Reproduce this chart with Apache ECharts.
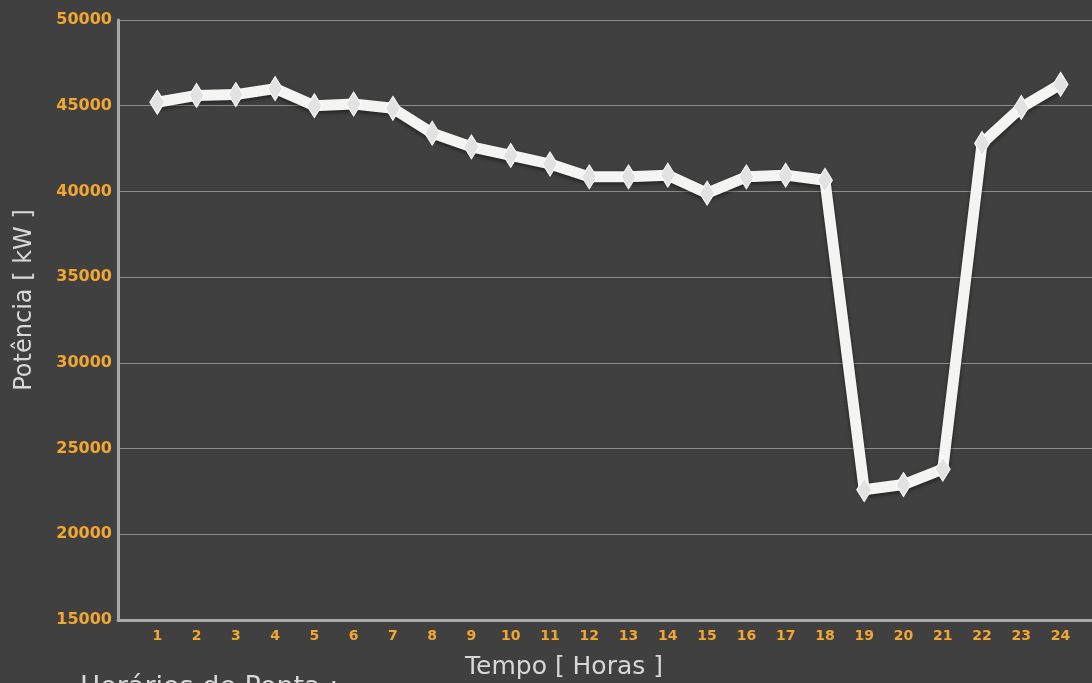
<!DOCTYPE html>
<html><head><meta charset="utf-8">
<script src="https://cdn.jsdelivr.net/npm/echarts@6/dist/echarts.min.js"></script>
<style>html,body{margin:0;padding:0;background:#404040;}#c{width:1092px;height:683px;}</style>
</head><body><div id="c"></div>
<script>
const hours = [1,2,3,4,5,6,7,8,9,10,11,12,13,14,15,16,17,18,19,20,21,22,23,24];
const potencia = [45200,45600,45650,46000,45000,45100,44850,43400,42600,42100,41600,40850,40850,40950,39900,40850,40950,40650,22600,22900,23800,42800,44900,46250];
const yTicks = [15000,20000,25000,30000,35000,40000,45000,50000];
const xTitle = 'Tempo [ Horas ]';
const yTitle = 'Potência [ kW ]';
const note = 'Horários de Ponta :';

const chart = echarts.init(document.getElementById('c'), null, {renderer:'canvas'});
const labelFont = {color:'#eaa93c', fontFamily:'DejaVu Sans', fontWeight:'bold', textBorderColor:'rgba(130,60,0,0.45)', textBorderWidth:1};
chart.setOption({
  backgroundColor:'#404040',
  animation:false,
  grid:{left:118, right:0, top:20, bottom:63, containLabel:false},
  xAxis:{
    type:'value', min:0, max:24.8, interval:1,
    axisLine:{show:true, onZero:false, lineStyle:{color:'#a8a8a8', width:3}},
    axisTick:{show:false},
    splitLine:{show:false},
    axisLabel:Object.assign({margin:9, fontSize:14, showMaxLabel:false, formatter:v=> (hours.indexOf(v)>=0 ? String(v) : '')}, labelFont)
  },
  yAxis:{
    type:'value', min:yTicks[0], max:yTicks[yTicks.length-1], interval:5000,
    axisLine:{show:true, lineStyle:{color:'#a8a8a8', width:3}},
    axisTick:{show:false},
    splitLine:{show:true, lineStyle:{color:'#8c8c8c', width:1}},
    axisLabel:Object.assign({margin:6, fontSize:16, formatter:v=>String(v)}, labelFont)
  },
  graphic:[
    {type:'text', x:564, y:655, style:{text:xTitle, fill:'#d8d8d8', font:'25px "DejaVu Sans"', textAlign:'center', textVerticalAlign:'top'}},
    {type:'text', x:25, y:300, rotation:Math.PI/2, style:{text:yTitle, fill:'#d8d8d8', font:'24px "DejaVu Sans"', textAlign:'center', textVerticalAlign:'middle'}},
    {type:'text', x:80, y:674, style:{text:note, fill:'#d8d8d8', font:'27px "DejaVu Sans"', textAlign:'left', textVerticalAlign:'top'}}
  ],
  series:[{
    type:'line',
    data: hours.map((h,i)=>[h, potencia[i]]),
    lineStyle:{color:'#f4f4f2', width:11, shadowColor:'rgba(0,0,0,0.5)', shadowBlur:4, shadowOffsetY:2},
    symbol:'diamond', symbolSize:[15,24],
    itemStyle:{color:'#e2e2e2', borderColor:'#ffffff', borderWidth:1},
    z:3
  }]
});
</script></body></html>
